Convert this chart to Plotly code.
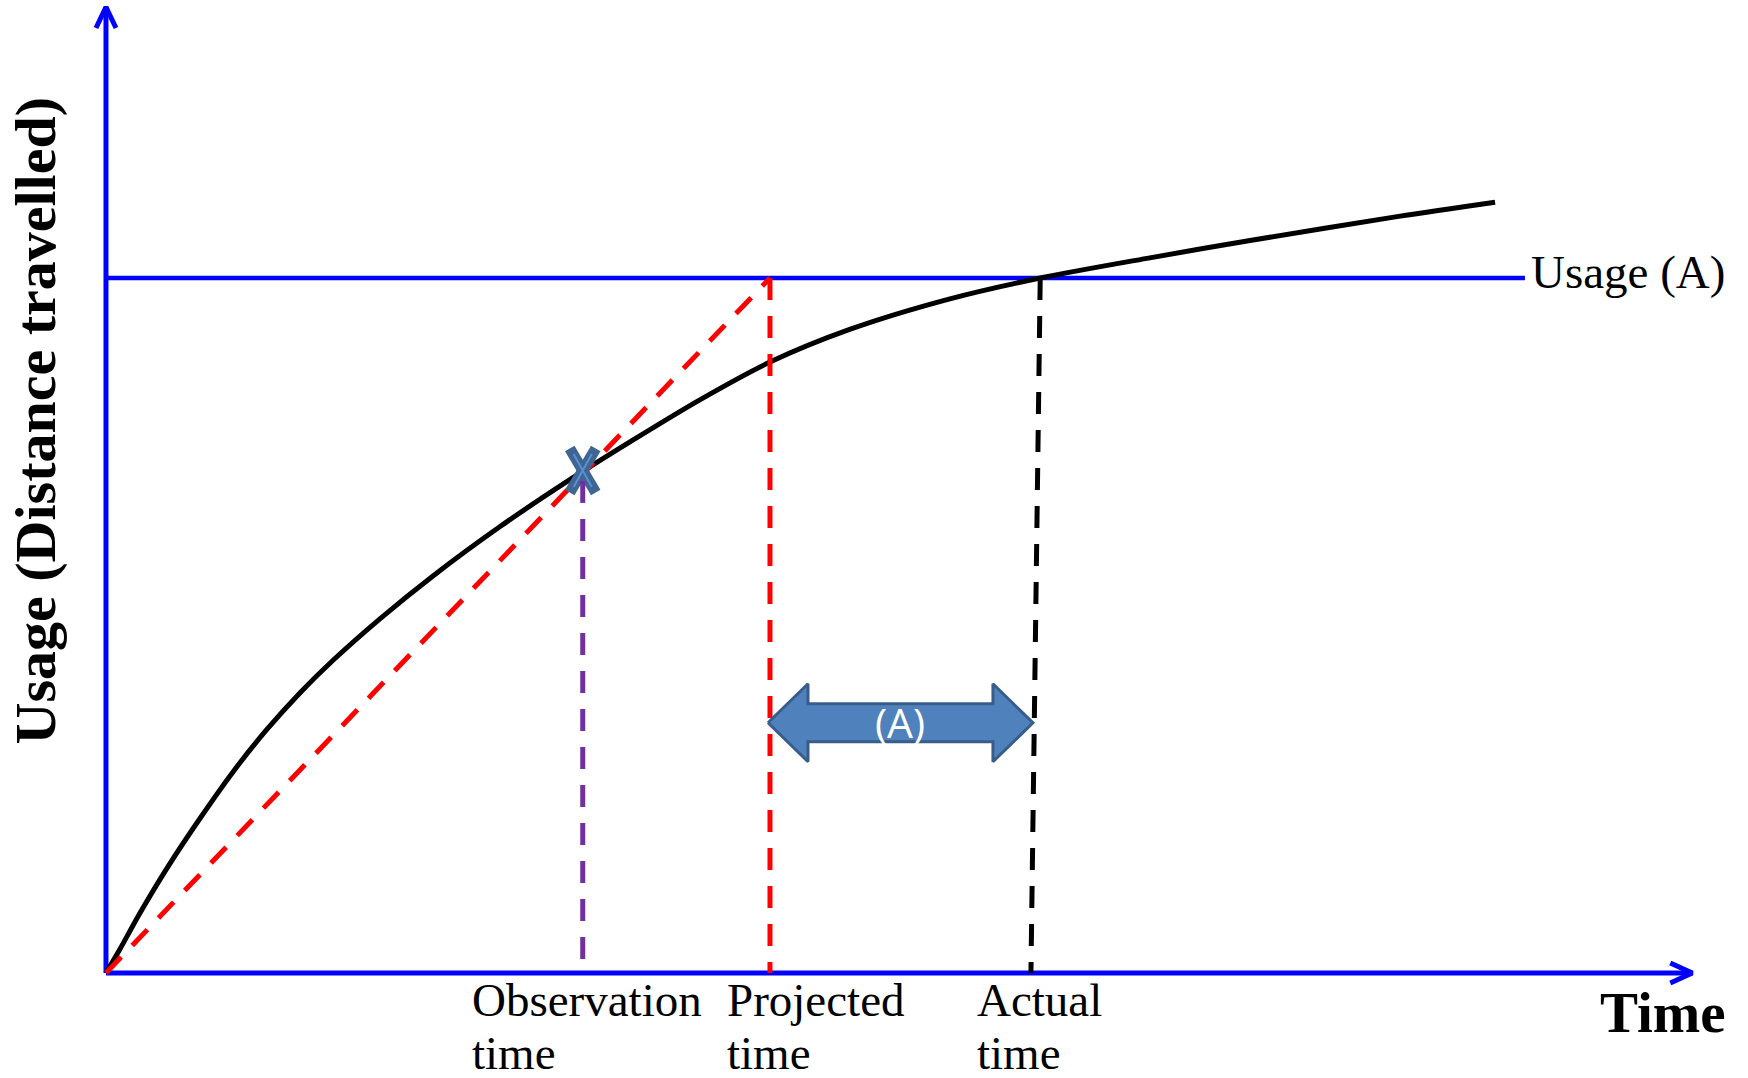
import plotly.graph_objects as go

# ---------------- data (time / usage in arbitrary units) ----------------
time = [0, 2.2, 5.1, 9.2, 14.2, 19.1, 24.2, 29.2, 34.2, 41.3, 49.2, 59.3,
        69.4, 79.4, 89.5, 100.0, 112.0, 127.1, 140.7, 157.2, 172.3, 194.9, 209.2]
usage = [0, 3.6, 8.6, 15.1, 22.3, 28.9, 35.0, 40.3, 45.0, 51.0, 57.1, 64.2,
         70.7, 76.7, 82.5, 87.9, 92.6, 97.0, 100.0, 102.9, 105.4, 108.9, 110.9]

usage_level_A = 100.0
observation_time = 71.8
observation_usage = 72.3
projected_time = 100.0
actual_time = 140.7
actual_time_base = 139.3
usage_line_end = 213.7
x_axis_end = 238.9
y_axis_end = 139.0
gap_arrow_level = 36.0

label_lines = [["Observation", "time"], ["Projected", "time"], ["Actual", "time"]]
label_times = [observation_time, projected_time, actual_time_base]

# ---------------- geometry helpers (pixel scale of the axes) ----------------
W, H = 1748, 1078
X_RANGE = [-15.96, 247.29]
Y_RANGE = [-15.11, 140.0]
KX = W / (X_RANGE[1] - X_RANGE[0])   # px per time unit
KY = H / (Y_RANGE[1] - Y_RANGE[0])   # px per usage unit

SERIF = '"Liberation Serif", "Times New Roman", Times, serif'
BLUE = "#0000FF"
RED = "#FF0000"
PURPLE = "#7030A0"
ARROW_FILL = "#4F81BD"
ARROW_EDGE = "#385D8A"
DASH = "22px,16px"

fig = go.Figure()

def line(xs, ys, color, width, dash="solid", shape="linear"):
    fig.add_trace(go.Scatter(x=xs, y=ys, mode="lines",
                             line=dict(color=color, width=width, dash=dash, shape=shape),
                             hoverinfo="skip"))

# Axes
line([0, 0], [0, y_axis_end], BLUE, 5)
line([0, x_axis_end], [0, 0], BLUE, 5)
# open arrow heads
line([-10 / KX, 0, 10 / KX], [y_axis_end - 21 / KY, y_axis_end, y_axis_end - 21 / KY], BLUE, 5)
line([x_axis_end - 22 / KX, x_axis_end, x_axis_end - 22 / KX], [10 / KY, 0, -10 / KY], BLUE, 5)

# Usage (A) level
line([0, usage_line_end], [usage_level_A, usage_level_A], BLUE, 4.5)

# Usage curve
fig.add_trace(go.Scatter(x=time, y=usage, mode="lines",
                         line=dict(color="black", width=5, shape="spline", smoothing=0.8),
                         hoverinfo="skip"))

# Projection (red dashed) from origin through observation to usage A
line([0, projected_time], [0, usage_level_A], RED, 5, DASH)
# projected time vertical
line([projected_time, projected_time], [usage_level_A, 0], RED, 5, DASH)
# actual time vertical
line([actual_time, actual_time_base], [usage_level_A, 0], "black", 5, DASH)

# Observation point X (drawn as two thick crossed strokes)
dx, dy = 13 / KX, 22 / KY
ox, oy = observation_time, observation_usage
for (x0, y0, x1, y1) in [(ox - dx, oy + dy, ox + dx, oy - dy), (ox + dx, oy + dy, ox - dx, oy - dy)]:
    line([x0, x1], [y0, y1], "#3E6593", 11)
for (x0, y0, x1, y1) in [(ox - dx * 0.7, oy + dy * 0.75, ox + dx * 0.7, oy - dy * 0.75),
                         (ox + dx * 0.7, oy + dy * 0.75, ox - dx * 0.7, oy - dy * 0.75)]:
    line([x0, x1], [y0, y1], "#5B8FD0", 2)

# observation vertical (purple)
line([observation_time, observation_time], [observation_usage - 1.5, 0], PURPLE, 5, DASH)

# Double arrow between projected and actual time
L, R = projected_time - 0.3, actual_time_base + 0.3
c = gap_arrow_level
hl = 40 / KX
hh = 39 / KY
sh = 19 / KY
ax = [L, L + hl, L + hl, R - hl, R - hl, R, R - hl, R - hl, L + hl, L + hl, L]
ay = [c, c + hh, c + sh, c + sh, c + hh, c, c - hh, c - sh, c - sh, c - hh, c]
fig.add_trace(go.Scatter(x=ax, y=ay, mode="lines", fill="toself", fillcolor=ARROW_FILL,
                         line=dict(color=ARROW_EDGE, width=3), hoverinfo="skip"))

annotations = []
annotations.append(dict(x=(L + R) / 2, y=c, text="(A)", showarrow=False,
                        font=dict(family="Open Sans", size=41, color="white"),
                        xanchor="center", yanchor="middle", yshift=1))

# Usage (A) label
annotations.append(dict(x=usage_line_end, y=usage_level_A, text="Usage (A)", showarrow=False,
                        font=dict(family=SERIF, size=47, color="black"),
                        xanchor="left", yanchor="middle", xshift=4, yshift=6))

# Time labels under x-axis (two lines each)
shifts = [-113, -45, -56]
line_yshift = [-27, -80]
for lines, t, s in zip(label_lines, label_times, shifts):
    for txt, ys in zip(lines, line_yshift):
        annotations.append(dict(x=t, y=0, text=txt, showarrow=False, align="left",
                                font=dict(family=SERIF, size=47, color="black"),
                                xanchor="left", yanchor="middle", xshift=s, yshift=ys))

# Axis titles
annotations.append(dict(x=x_axis_end, y=0, text="<b>Time</b>", showarrow=False,
                        font=dict(family=SERIF, size=57, color="black"),
                        xanchor="left", yanchor="middle", xshift=-94, yshift=-40))
annotations.append(dict(x=0, y=79.5, text="<b>Usage (Distance travelled)</b>",
                        showarrow=False, textangle=-90,
                        font=dict(family=SERIF, size=58, color="black"),
                        xanchor="center", yanchor="middle", xshift=-71))

fig.update_layout(
    width=W, height=H,
    margin=dict(l=0, r=0, t=0, b=0),
    paper_bgcolor="white", plot_bgcolor="white",
    showlegend=False,
    xaxis=dict(range=X_RANGE, visible=False, fixedrange=True),
    yaxis=dict(range=Y_RANGE, visible=False, fixedrange=True),
    annotations=annotations,
)

fig.write_html("out.html", config={"displayModeBar": False},
               post_script="document.body.style.margin='0';document.body.style.overflow='hidden';")
